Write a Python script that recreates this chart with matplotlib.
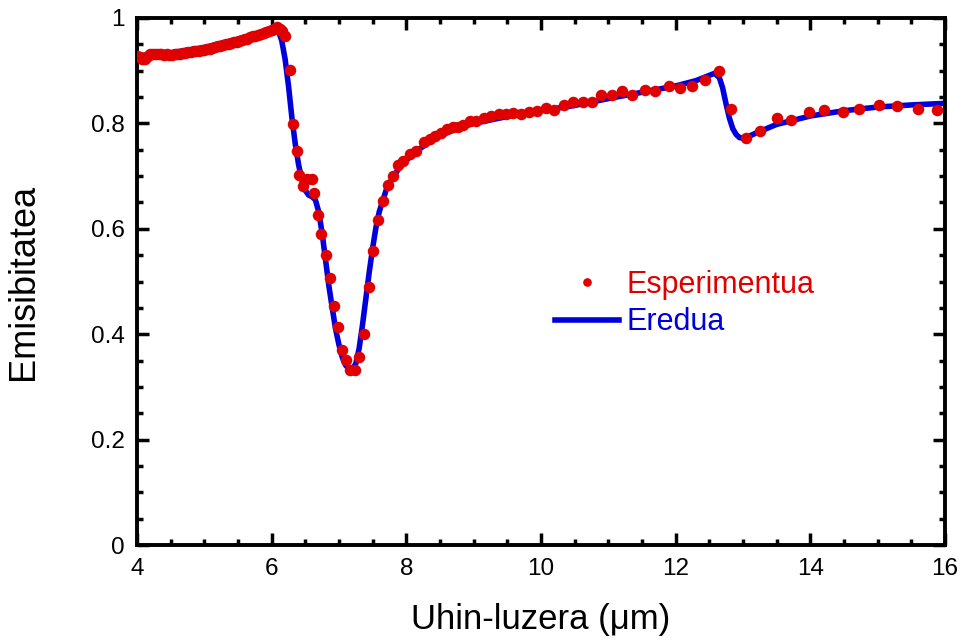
import numpy as np
import matplotlib
matplotlib.use("Agg")
import matplotlib.pyplot as plt
from matplotlib.ticker import MultipleLocator

plt.rcParams['font.family'] = ['Liberation Sans', 'DejaVu Sans']

# measured emissivity (red dots)
exp_x = [4.00, 4.04, 4.08, 4.12, 4.16, 4.20, 4.24, 4.28, 4.32, 4.36, 4.40, 4.44,
         4.48, 4.52, 4.56, 4.60, 4.64, 4.68, 4.72, 4.76, 4.80, 4.84, 4.88, 4.92,
         4.96, 5.00, 5.04, 5.08, 5.12, 5.16, 5.20, 5.24, 5.28, 5.32, 5.36, 5.40,
         5.44, 5.48, 5.52, 5.56, 5.60, 5.64, 5.68, 5.72, 5.76, 5.80, 5.84, 5.88,
         5.92, 5.96, 6.00, 6.04, 6.08, 6.12, 6.16, 6.20,
         6.27, 6.31, 6.37, 6.41, 6.47, 6.53, 6.60, 6.63, 6.69, 6.74, 6.81, 6.86,
         6.93, 6.99, 7.05, 7.11, 7.17, 7.24, 7.30, 7.37, 7.45, 7.51, 7.58, 7.66,
         7.73, 7.80, 7.88, 7.95, 8.06, 8.14, 8.27, 8.35, 8.43, 8.51, 8.61, 8.69,
         8.77, 8.84, 8.95, 9.03, 9.16, 9.26, 9.37, 9.48, 9.59, 9.70, 9.83, 9.94,
         10.08, 10.20, 10.34, 10.47, 10.62, 10.76, 10.90, 11.05, 11.21, 11.36,
         11.54, 11.69, 11.90, 12.06, 12.24, 12.44, 12.64, 12.82, 13.04, 13.25,
         13.50, 13.71, 13.98, 14.20, 14.48, 14.73, 15.02, 15.29, 15.60, 15.89]
exp_y = [0.928, 0.926, 0.922, 0.922, 0.928, 0.932, 0.931, 0.931, 0.932, 0.931, 0.930, 0.931,
         0.930, 0.930, 0.931, 0.932, 0.932, 0.933, 0.934, 0.935, 0.936, 0.937, 0.937, 0.938,
         0.939, 0.940, 0.941, 0.942, 0.943, 0.944, 0.946, 0.947, 0.948, 0.950, 0.951, 0.952,
         0.954, 0.955, 0.957, 0.958, 0.960, 0.961, 0.963, 0.965, 0.966, 0.968, 0.970, 0.972,
         0.974, 0.976, 0.978, 0.980, 0.982, 0.980, 0.976, 0.966,
         0.901, 0.799, 0.747, 0.703, 0.682, 0.695, 0.695, 0.667, 0.627, 0.591, 0.550, 0.506,
         0.454, 0.413, 0.371, 0.351, 0.333, 0.333, 0.357, 0.400, 0.490, 0.558, 0.617, 0.652,
         0.684, 0.701, 0.722, 0.729, 0.742, 0.747, 0.764, 0.770, 0.777, 0.782, 0.789, 0.793,
         0.794, 0.797, 0.804, 0.804, 0.811, 0.814, 0.818, 0.818, 0.819, 0.818, 0.822, 0.824,
         0.830, 0.826, 0.834, 0.841, 0.841, 0.840, 0.854, 0.854, 0.862, 0.854,
         0.864, 0.861, 0.871, 0.868, 0.870, 0.882, 0.900, 0.828, 0.772, 0.785,
         0.810, 0.807, 0.822, 0.825, 0.821, 0.827, 0.834, 0.833, 0.827, 0.825]

# model curve (blue line)
mod_x = [4.0, 4.5, 5.0, 5.5, 5.8, 6.0, 6.05, 6.1, 6.15, 6.2, 6.25, 6.3, 6.35, 6.4,
         6.45, 6.5, 6.55, 6.6, 6.65, 6.7, 6.75, 6.8, 6.85, 6.9, 6.95, 7.0, 7.05,
         7.1, 7.15, 7.2, 7.25, 7.3, 7.35, 7.4, 7.45, 7.5, 7.55, 7.6, 7.7, 7.8, 7.9,
         8.0, 8.2, 8.4, 8.6, 8.8, 9.0, 9.5, 10.0, 10.5, 11.0, 11.5, 12.0, 12.3,
         12.5, 12.58, 12.65, 12.7, 12.75, 12.8, 12.85, 12.9, 12.95, 13.0, 13.05,
         13.2, 13.5, 14.0, 14.5, 15.0, 15.5, 16.0]
mod_y = [0.928, 0.934, 0.944, 0.960, 0.971, 0.980, 0.982, 0.976, 0.957, 0.922, 0.872,
         0.812, 0.762, 0.722, 0.692, 0.673, 0.664, 0.661, 0.655, 0.632, 0.592, 0.542,
         0.492, 0.450, 0.410, 0.380, 0.356, 0.341, 0.334, 0.334, 0.344, 0.373, 0.418,
         0.468, 0.518, 0.563, 0.603, 0.633, 0.673, 0.698, 0.716, 0.730, 0.752, 0.769,
         0.782, 0.792, 0.800, 0.813, 0.824, 0.834, 0.847, 0.859, 0.871, 0.881, 0.891,
         0.895, 0.887, 0.867, 0.837, 0.810, 0.790, 0.779, 0.773, 0.772, 0.773, 0.782,
         0.798, 0.814, 0.824, 0.831, 0.835, 0.838]

red = '#e00000'
blue = '#0000dc'

fig = plt.figure(figsize=(9.6, 6.42), dpi=100)
ax = fig.add_axes([0.1427, 0.151, 0.8415, 0.821])

ax.plot(exp_x, exp_y, 'o', color=red, markersize=8.3, markeredgewidth=0,
        label='Esperimentua', zorder=3)
ax.plot(mod_x, mod_y, '-', color=blue, linewidth=4, label='Eredua', zorder=2)

ax.set_xlim(4, 16)
ax.set_ylim(0, 1)
ax.xaxis.set_major_locator(MultipleLocator(2))
ax.xaxis.set_minor_locator(MultipleLocator(0.5))
ax.yaxis.set_major_locator(MultipleLocator(0.2))
ax.yaxis.set_minor_locator(MultipleLocator(0.05))
ax.set_yticks([0, 0.2, 0.4, 0.6, 0.8, 1])
ax.set_yticklabels(['0', '0.2', '0.4', '0.6', '0.8', '1'])

for s in ax.spines.values():
    s.set_linewidth(2.8)
ax.tick_params(which='both', direction='in', top=True, right=True, width=2.5)
ax.tick_params(which='major', length=8.5, labelsize=17.5, pad=9)
ax.tick_params(which='minor', length=4.5)

ax.set_xlabel('Uhin-luzera (\u03bcm)', fontsize=25, labelpad=17)
ax.set_ylabel('Emisibitatea', fontsize=26, labelpad=36)

leg = ax.legend(loc='upper left', bbox_to_anchor=(0.517, 0.522), frameon=False,
                fontsize=22, borderpad=0, borderaxespad=0, handlelength=2.1,
                handletextpad=0.26, labelspacing=0.24, numpoints=1,
                labelcolor=[red, blue], markerscale=0.75)

fig.savefig('out.png', dpi=100)
